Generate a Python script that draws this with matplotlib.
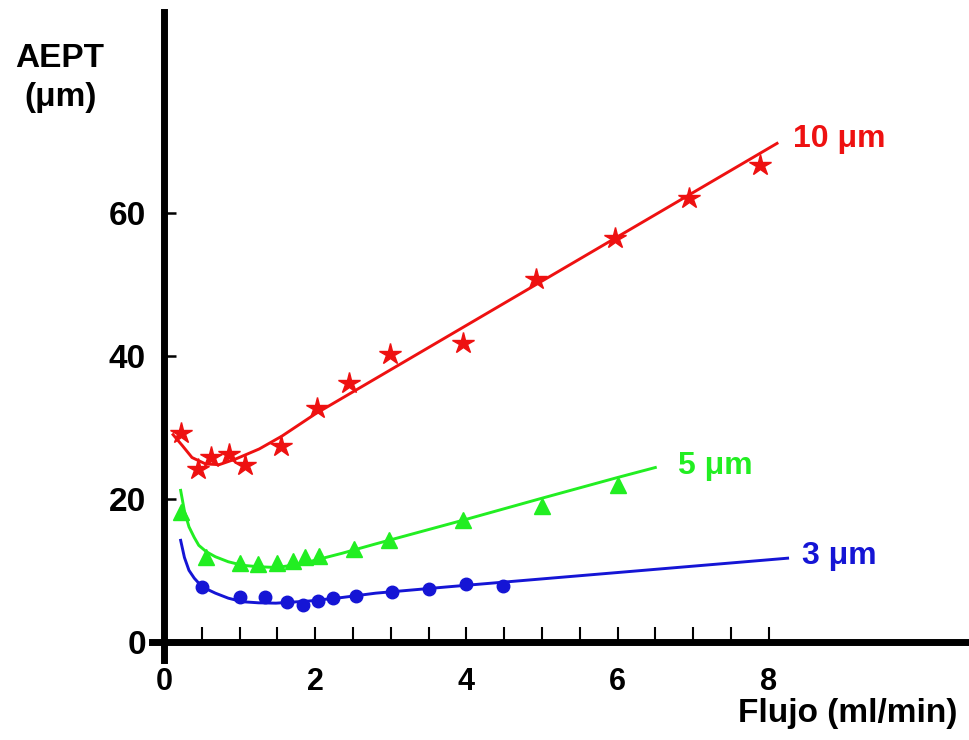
import matplotlib
matplotlib.use("Agg")
import matplotlib.pyplot as plt
from matplotlib.ticker import FixedLocator

plt.rcParams['font.family'] = ['Liberation Sans', 'DejaVu Sans']
plt.rcParams['font.weight'] = 'bold'

# ---- data ----
red_x = [0.22, 0.45, 0.62, 0.86, 1.07, 1.55, 2.03, 2.45, 2.99, 3.95, 4.92, 5.97, 6.94, 7.88]
red_y = [29.2, 24.2, 25.9, 26.3, 24.8, 27.4, 32.7, 36.2, 40.3, 41.9, 50.8, 56.6, 62.2, 66.8]
red_fit_x = [0.12, 0.24, 0.37, 0.55, 0.73, 0.95, 1.26, 1.56, 2.0, 8.11]
red_fit_y = [29.0, 27.5, 25.8, 24.9, 24.8, 25.6, 27.0, 28.8, 31.9, 69.8]

green_x = [0.22, 0.55, 1.0, 1.24, 1.49, 1.70, 1.87, 2.05, 2.52, 2.97, 3.95, 5.0, 6.0]
green_y = [18.2, 11.8, 11.0, 10.9, 11.0, 11.3, 11.8, 12.0, 13.0, 14.2, 17.0, 19.0, 21.9]
green_fit_x = [0.22, 0.27, 0.33, 0.40, 0.46, 0.56, 0.68, 0.85, 1.04, 1.25, 1.48, 1.70, 1.92, 2.36, 2.80, 3.95, 5.0, 6.0, 6.5]
green_fit_y = [21.2, 18.3, 16.1, 14.6, 13.5, 12.6, 11.9, 11.2, 10.7, 10.5, 10.4, 10.7, 11.2, 12.4, 13.7, 17.0, 20.1, 23.0, 24.4]

blue_x = [0.50, 1.0, 1.34, 1.63, 1.84, 2.04, 2.24, 2.54, 3.02, 3.51, 3.99, 4.49]
blue_y = [7.7, 6.3, 6.2, 5.6, 5.1, 5.7, 6.1, 6.4, 6.9, 7.4, 8.1, 7.8]
blue_fit_x = [0.22, 0.27, 0.33, 0.40, 0.46, 0.56, 0.68, 0.85, 1.04, 1.25, 1.48, 1.92, 2.36, 2.80, 3.77, 8.25]
blue_fit_y = [14.2, 11.8, 10.0, 8.9, 8.2, 7.4, 6.8, 6.1, 5.6, 5.45, 5.4, 5.7, 6.2, 6.8, 7.7, 11.7]

x_major = [0, 2, 4, 6, 8]
y_major = [0, 20, 40, 60]
series_labels = ['10 \u03bcm', '5 \u03bcm', '3 \u03bcm']

RED = '#ee1111'
GREEN = '#22ee22'
BLUE = '#1515d5'

fig = plt.figure(figsize=(9.69, 7.4), dpi=100)
ax = fig.add_axes([152/969, 1-660/740, 1-152/969, (660-12)/740])
ax.set_xlim(-0.159, 10.65)
ax.set_ylim(-2.56, 88.2)

ax.plot(red_fit_x, red_fit_y, color=RED, lw=2.1, zorder=3)
ax.plot(red_x, red_y, ls='none', marker='*', ms=16, color=RED, zorder=4)
ax.plot(green_fit_x, green_fit_y, color=GREEN, lw=2.1, zorder=3)
ax.plot(green_x, green_y, ls='none', marker='^', ms=11, color=GREEN, zorder=4)
ax.plot(blue_fit_x, blue_fit_y, color=BLUE, lw=2.1, zorder=3)
ax.plot(blue_x, blue_y, ls='none', marker='o', ms=9, color=BLUE, zorder=4)

ax.text(8.32, 70.4, series_labels[0], color=RED, fontsize=23, fontweight='bold', va='center', ha='left')
ax.text(6.80, 24.6, series_labels[1], color=GREEN, fontsize=23, fontweight='bold', va='center', ha='left')
ax.text(8.44, 12.0, series_labels[2], color=BLUE, fontsize=23, fontweight='bold', va='center', ha='left')

for s in ['top', 'right']:
    ax.spines[s].set_visible(False)
ax.spines['left'].set_position(('data', 0))
ax.spines['bottom'].set_position(('data', 0))
for s in ['left', 'bottom']:
    ax.spines[s].set_linewidth(5)
    ax.spines[s].set_color('black')

ax.xaxis.set_major_locator(FixedLocator(x_major))
ax.xaxis.set_minor_locator(FixedLocator([v * 0.5 for v in range(1, 17)]))
ax.yaxis.set_major_locator(FixedLocator(y_major))
ax.tick_params(axis='x', which='both', direction='in', length=11, width=1.5, pad=18, labelsize=22)
ax.tick_params(axis='y', which='major', direction='in', length=8.5, width=1.8, pad=13, labelsize=24)
ax.tick_params(axis='y', which='minor', length=0)
for lab in ax.get_xticklabels() + ax.get_yticklabels():
    lab.set_fontweight('bold')

fig.text(60/969, 1-67/740, 'AEPT', fontsize=24, fontweight='bold', ha='center', va='baseline')
fig.text(61/969, 1-106/740, '(\u03bcm)', fontsize=24, fontweight='bold', ha='center', va='baseline')
fig.text(957/969, 1-722/740, 'Flujo (ml/min)', fontsize=24, fontweight='bold', ha='right', va='baseline')

fig.savefig('out.png', dpi=100)
